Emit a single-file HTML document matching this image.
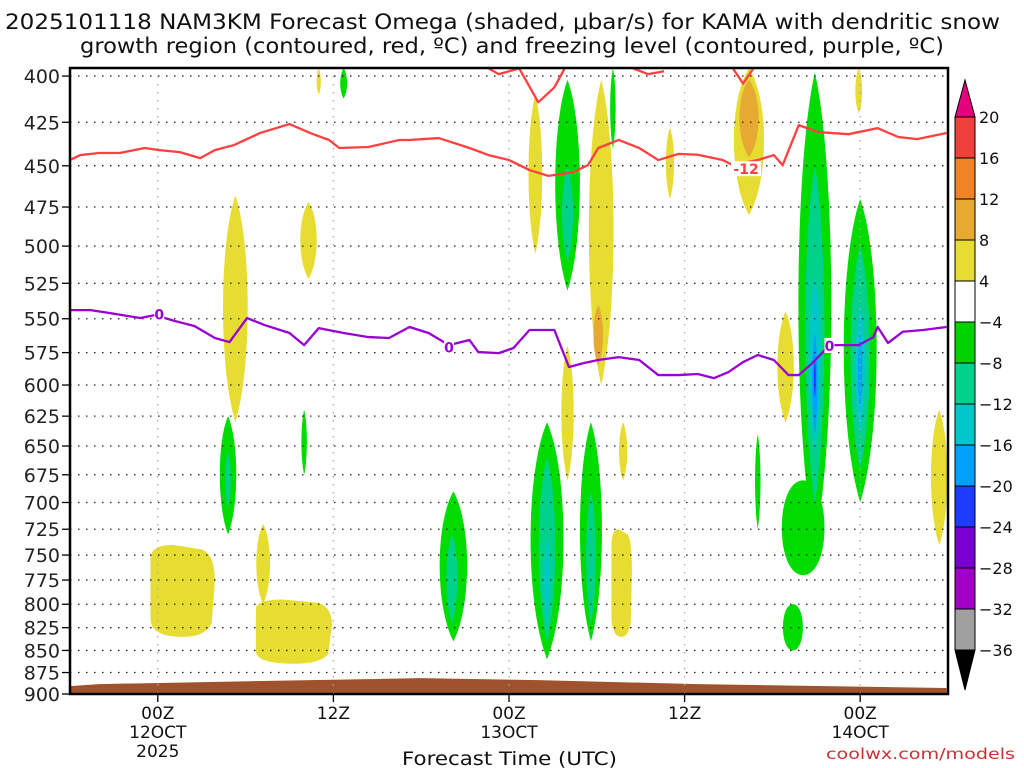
<!DOCTYPE html>
<html><head><meta charset="utf-8"><style>
html,body{margin:0;padding:0;background:#fff;}
svg{display:block;font-family:"DejaVu Sans","Liberation Sans",sans-serif;}
</style></head><body>
<svg id="chart" width="1024" height="768" viewBox="0 0 1024 768">
<text x="5" y="29" textLength="995" lengthAdjust="spacingAndGlyphs" font-size="21" fill="#111">2025101118 NAM3KM Forecast Omega (shaded, μbar/s) for KAMA with dendritic snow</text>
<text x="80" y="53" textLength="864" lengthAdjust="spacingAndGlyphs" font-size="21" fill="#111">growth region (contoured, red, ºC) and freezing level (contoured, purple, ºC)</text>
<g id="plot"></g>
<g id="axes"></g>
<g id="cbar"></g>
<text x="402" y="765" textLength="215" lengthAdjust="spacingAndGlyphs" font-size="19" fill="#111">Forecast Time (UTC)</text>
<text x="826" y="759" textLength="189" lengthAdjust="spacingAndGlyphs" font-size="15" fill="#c83232">coolwx.com/models</text>
</svg>
<script>
// ---- data ----
const pressureTicks=[400,425,450,475,500,525,550,575,600,625,650,675,700,725,750,775,800,825,850,875,900];
const timeTickHours=[6,18,30,42,54];
const timeTickLabels=[["00Z","12OCT","2025"],["12Z"],["00Z","13OCT"],["12Z"],["00Z","14OCT"]];
const cbarLevels=[20,16,12,8,4,-4,-8,-12,-16,-20,-24,-28,-32,-36];
const cbarColors=["#f0403c","#f08228","#e6aa32","#e6dc32","#ffffff","#00d200","#00d28c","#00c8c8","#00a0ff","#1e3cff","#7800d2","#a000c8","#a0a0a0"];
const levelColor={"y":"#e6dc32","o":"#e6aa32","g":"#00dc00","t":"#00d28c","c":"#00c8c8","lb":"#00a0ff","b":"#1e3cff"};
// omega blobs: [level, centerHour, topP, bottomP, halfWidthHours, shape]
const blobLevel=["y","y","y","y","y","y","y","y","o","y","y","y","y","y","o","y","y","y",
 "g","t","g","g","g","t","g","t","c","g","t","g","t","g","g","g","g","g","t","c","lb","b","g","t","c","lb"];
const blobHour=[11.3,16.3,17,7.7,13.2,15.3,31.8,36.3,36.1,34.0,37.7,37.8,41.0,46.4,46.4,48.9,53.9,59.4,
 10.8,10.8,16.0,18.7,26.2,26.1,32.6,32.6,32.6,35.6,35.6,34.0,34.0,37.1,47.0,49.4,50.9,50.1,50.9,50.9,50.9,50.9,54.0,54.0,54.0,54.0];
const blobTop=[468,472,396,740,720,795,410,402,540,570,725,630,428,396,402,545,396,620,
 625,655,620,396,690,730,630,660,730,630,690,402,450,396,640,800,398,680,450,520,560,580,470,500,540,560];
const blobBottom=[630,522,410,835,800,865,505,600,585,680,835,680,470,480,445,630,420,740,
 730,705,675,412,840,820,860,840,820,840,820,530,510,440,725,850,740,770,700,650,640,610,700,670,640,620];
const blobHalfW=[0.9,0.6,0.15,2.2,0.5,2.6,0.5,0.9,0.35,0.45,0.7,0.3,0.3,1.1,0.7,0.6,0.25,0.6,
 0.6,0.2,0.2,0.25,1.0,0.4,1.2,0.6,0.2,0.8,0.35,0.9,0.4,0.2,0.2,0.7,1.2,1.5,0.7,0.4,0.2,0.07,1.2,0.7,0.35,0.15];
const blobShape=["l","l","l","r","l","r","l","l","l","l","r","l","l","l","l","l","l","l",
 "l","l","l","l","l","l","l","l","l","l","l","l","l","l","l","e","l","e","l","l","l","l","l","l","l","l"];
// -12C contour (dendritic growth top)
const redHours=[0,0.7,2,3.4,5.1,6.1,7.5,8.9,9.9,11.2,13,15,16.4,17.7,18.4,20.4,22.5,23.2,25.2,27.3,28.6,30,31.4,32.7,34.4,35.4,36.1,37.5,38.9,40.2,41.6,42.9,44.6,45.3,47,48.1,48.7,49.8,51.1,53.2,55.2,56.6,57.9,59.9];
const redPress=[446.6,443.7,442.5,442.5,439.6,440.8,442,445.5,440.8,437.9,431,426,431,435,439.6,439,435,435,433.9,439.6,443.7,446.6,452.5,456,453.7,449.6,439.6,435,439.6,446.6,443,443.5,446.6,449.6,446.6,443.7,449.6,426.6,430.5,431.7,428.3,433.3,434.5,431];
const redSeg2Hours=[28.6,29.3,30.7,32.0,33.1,33.8];
const redSeg2Press=[396,399,396,414,406,396];
const redSeg3Hours=[38.5,39.5,40.6];
const redSeg3Press=[396,399,397.5];
const redSeg4Hours=[45.3,46.0,46.7];
const redSeg4Press=[396,404,396];
// 0C freezing level
const purpleHours=[0,1.4,2.7,4.8,5.8,7.2,8.5,9.9,10.9,12.1,13.3,15,16,17,18.7,20.4,21.8,23.2,24.5,25.9,27.3,27.9,29.3,30.3,31.4,33.1,34.1,35.1,36.1,37.5,38.9,40.2,41.6,42.9,44,45,46,47,48.1,49.1,49.8,50.8,51.9,53.9,54.9,55.2,55.9,56.9,58.3,59.9];
const purplePress=[543.8,543.8,545.9,549.5,547.4,551.7,555.3,564.1,567.1,549.5,554.6,560.4,569.4,556.8,560.4,563.4,564.1,556,560.4,569.4,565.6,574.6,575.4,571.6,558.2,558.2,586,583,580.6,578.4,580.6,592.2,592.2,591.4,594.6,589.9,582.2,576.8,580.6,592.2,592.2,582.2,569.4,569.4,563.4,556,567.8,559.5,558.2,556];
// terrain (surface pressure)
const terrainHours=[0,2,12.3,23.9,32,42.9,59.9];
const terrainPress=[890.7,888.4,885,881.5,883.8,888.4,893];

// ---- scales ----
const X0=70,X1=948,Y0=68,Y1=694,H0=0,H1=60,Pbot=900,pxPerLn=762;
const xs=h=>X0+(h-H0)/(H1-H0)*(X1-X0);
const ys=p=>Y1-Math.log(Pbot/p)*pxPerLn;
const NS="http://www.w3.org/2000/svg";
function mk(tag,parent,attrs){const e=document.createElementNS(NS,tag);for(const k in attrs)e.setAttribute(k,attrs[k]);parent.appendChild(e);return e;}
const plot=document.getElementById('plot'),axes=document.getElementById('axes'),cbar=document.getElementById('cbar');

const defs=mk('defs',plot,{});
const cp=mk('clipPath',defs,{id:'clip'});mk('rect',cp,{x:X0,y:Y0,width:X1-X0,height:Y1-Y0});
const g=mk('g',plot,{'clip-path':'url(#clip)'});

// blobs
blobLevel.forEach((lv,i)=>{
  const cx=xs(blobHour[i]),t=ys(blobTop[i]),b=ys(blobBottom[i]),w=blobHalfW[i]*(X1-X0)/(H1-H0),h=b-t;
  let d;
  if(blobShape[i]==="r"){d=`M${cx-w} ${t+h*0.15} Q${cx-w} ${t} ${cx-w*0.3} ${t} L${cx+w*0.6} ${t+h*0.05} Q${cx+w} ${t+h*0.1} ${cx+w} ${t+h*0.4} L${cx+w*0.9} ${b-h*0.15} Q${cx+w*0.7} ${b} ${cx} ${b} Q${cx-w} ${b} ${cx-w} ${b-h*0.2} Z`;}
  else if(blobShape[i]==="e"){d=`M${cx} ${t} C${cx+w*1.3} ${t} ${cx+w*1.3} ${b} ${cx} ${b} C${cx-w*1.3} ${b} ${cx-w*1.3} ${t} ${cx} ${t} Z`;}
  else{d=`M${cx} ${t} C${cx+w*1.2} ${t+h*0.2} ${cx+w*1.3} ${b-h*0.25} ${cx} ${b} C${cx-w*1.3} ${b-h*0.25} ${cx-w*1.2} ${t+h*0.2} ${cx} ${t} Z`;}
  const p=mk('path',g,{d:d,fill:levelColor[lv]});
  
  
});

// terrain
{let d=`M${xs(terrainHours[0])} ${Y1+2}`;terrainHours.forEach((h,i)=>{d+=` L${xs(h)} ${ys(terrainPress[i])}`;});d+=` L${xs(terrainHours[terrainHours.length-1])} ${Y1+2} Z`;
 const t=mk('path',g,{d:d,fill:'#a0522d'});
 
 }

// grid
pressureTicks.forEach(p=>{const l=mk('line',g,{x1:X0,x2:X1,y1:ys(p),y2:ys(p),stroke:'#222','stroke-width':1.3,'stroke-dasharray':'1.5 6.5'});
 
 });
timeTickHours.forEach(h=>{const l=mk('line',g,{x1:xs(h),x2:xs(h),y1:Y0,y2:Y1,stroke:'#aaa','stroke-width':1.3,'stroke-dasharray':'1.5 6.5'});
 
 });

function line(hs,ps,color,name){const pts=hs.map((h,i)=>xs(h)+','+ys(ps[i])).join(' ');
 const l=mk('polyline',g,{points:pts,fill:'none',stroke:color,'stroke-width':2.3,'stroke-linejoin':'round'});
 
 }
line(redHours,redPress,'#ff4040','dgz-minus12-contour');
line(redSeg2Hours,redSeg2Press,'#ff4040','dgz-contour-segment');
line(redSeg3Hours,redSeg3Press,'#ff4040','dgz-contour-segment');
line(redSeg4Hours,redSeg4Press,'#ff4040','dgz-contour-segment');
line(purpleHours,purplePress,'#9b00d2','freezing-level-contour');

function clabel(txt,h,p,color,name){const r=mk('rect',g,{x:xs(h)-(txt.length*5),y:ys(p)-8,width:txt.length*10,height:15,fill:'#fff'});
 
 
 const t=mk('text',g,{x:xs(h),y:ys(p)+5,'text-anchor':'middle','font-size':14,'font-weight':'bold',fill:color});t.textContent=txt;
 
 }
clabel('0',6.1,547,'#9b00d2','freezing-label-1');
clabel('0',25.9,571,'#9b00d2','freezing-label-2');
clabel('0',51.9,570,'#9b00d2','freezing-label-3');
clabel('-12',46.2,452,'#ff4040','dgz-label');

// frame & ticks
{const f=mk('rect',axes,{x:X0,y:Y0,width:X1-X0,height:Y1-Y0,fill:'none',stroke:'#000','stroke-width':2.5});
 
 }
pressureTicks.forEach(p=>{const y=ys(p);mk('line',axes,{x1:X0-8,x2:X0,y1:y,y2:y,stroke:'#000','stroke-width':1.3});
 const t=mk('text',axes,{x:X0-10,y:y+7,'text-anchor':'end','font-size':19,fill:'#222'});t.textContent=p;
 
 });
timeTickHours.forEach((h,i)=>{const x=xs(h);mk('line',axes,{x1:x,x2:x,y1:Y1,y2:Y1+8,stroke:'#000','stroke-width':1.3});
 timeTickLabels[i].forEach((s,j)=>{const t=mk('text',axes,{x:x,y:Y1+25+j*19,'text-anchor':'middle','font-size':17,fill:'#111'});t.textContent=s;
  
  });});

// colorbar
const CX=955,CW=20,CT=117,CB=650,step=(CB-CT)/(cbarLevels.length-1);
cbarColors.forEach((c,i)=>{const r=mk('rect',cbar,{x:CX,y:CT+i*step,width:CW,height:step,fill:c,stroke:'#000','stroke-width':1});
 
 });
{const a=mk('path',cbar,{d:`M${CX} ${CT} L${CX+CW/2} 80 L${CX+CW} ${CT} Z`,fill:'#e6007d',stroke:'#000','stroke-width':1});
 
 
 const b=mk('path',cbar,{d:`M${CX} ${CB} L${CX+CW/2} 690 L${CX+CW} ${CB} Z`,fill:'#000',stroke:'#000','stroke-width':1});
 
 }
cbarLevels.forEach((v,i)=>{const t=mk('text',cbar,{x:CX+CW+4,y:CT+i*step+6,'font-size':16,fill:'#111'});t.textContent=(v<0?'\u2212'+(-v):v);
 
 });
</script>
</body></html>
